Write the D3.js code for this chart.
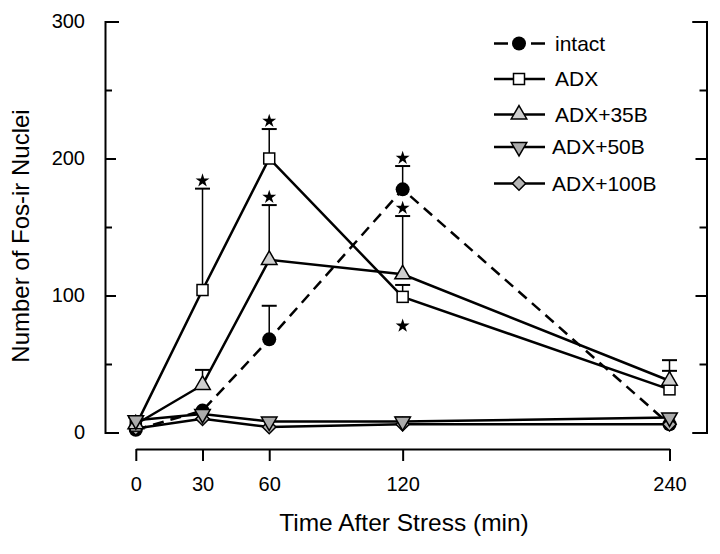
<!DOCTYPE html>
<html>
<head>
<meta charset="utf-8">
<script src="https://cdn.jsdelivr.net/npm/d3@7"></script>
<style>
  body { margin: 0; background: #fff; }
  text { font-family: "Liberation Sans", Arial, Helvetica, sans-serif; fill: #000; }
</style>
</head>
<body>
<svg id="chart" width="720" height="554"></svg>
<script>
// time points (min)
var times = [0, 30, 60, 120, 240];
var yTicks = [0, 50, 100, 150, 200, 250, 300];

// mean number of Fos-ir nuclei
var intact  = [2, 16, 68, 177.5, 6];
var adx     = [5, 104, 200, 99, 31.5];
var adx35   = [6, 34.7, 126, 115.5, 37.8];
var adx50   = [9, 13.5, 8, 8, 11];
var adx100  = [3, 10, 4, 6, 6];

// upward error bars (SEM), 0 = none drawn
var intactErr = [0, 0, 24.5, 17, 0];
var adxErr    = [6, 74, 21.5, 8.7, 13.5];
var adx35Err  = [0, 11, 40, 42.5, 15];
var adx50Err  = [0, 0, 0, 3, 0];
var adx100Err = [0, 0, 0, 0, 0];

// significance stars: [series, time index, side]
var stars = [
  ["adx", 1, "above"], ["adx", 2, "above"], ["adx", 3, "below"],
  ["adx35", 2, "above"], ["adx35", 3, "above"],
  ["intact", 3, "above"]
];

var series = [
  {key: "intact", label: "intact",   values: intact, err: intactErr, dashed: true},
  {key: "adx",    label: "ADX",      values: adx,    err: adxErr},
  {key: "adx35",  label: "ADX+35B",  values: adx35,  err: adx35Err},
  {key: "adx50",  label: "ADX+50B",  values: adx50,  err: adx50Err},
  {key: "adx100", label: "ADX+100B", values: adx100, err: adx100Err}
];

var svg = d3.select("#chart");

var x = d3.scaleLinear().domain([0, 240]).range([135.8, 669.5]);
var y = d3.scaleLinear().domain([0, 300]).range([432.5, 21.5]);

// marker drawing
function marker(g, key) {
  if (key == "intact") {
    g.append("circle").attr("r", 7).attr("fill", "#000");
  } else if (key == "adx") {
    g.append("rect").attr("x", -5.5).attr("y", -5.5).attr("width", 11).attr("height", 11)
      .attr("fill", "#fff").attr("stroke", "#000").attr("stroke-width", 1.5);
  } else if (key == "adx35") {
    g.append("path").attr("d", d3.symbol(d3.symbolTriangle, 105)())
      .attr("fill", "#cfcfcf").attr("stroke", "#000").attr("stroke-width", 1.5);
  } else if (key == "adx50") {
    g.append("path").attr("d", d3.symbol(d3.symbolTriangle, 105)())
      .attr("transform", "rotate(180)")
      .attr("fill", "#ababab").attr("stroke", "#000").attr("stroke-width", 1.5);
  } else {
    g.append("path").attr("d", d3.symbol(d3.symbolSquare, 90)())
      .attr("transform", "rotate(45)")
      .attr("fill", "#b5b5b5").attr("stroke", "#000").attr("stroke-width", 1.5);
  }
}

// axes
var yAxisL = d3.axisLeft(y).tickValues(yTicks).tickSize(-11).tickSizeOuter(-14).tickPadding(20)
  .tickFormat(function(d){ return d % 100 == 0 ? d : ""; });
var gL = svg.append("g").attr("transform", "translate(105,0)").call(yAxisL);

var yAxisR = d3.axisRight(y).tickValues(yTicks).tickSize(-11).tickSizeOuter(-14).tickFormat("");
var gR = svg.append("g").attr("transform", "translate(706.5,0)").call(yAxisR);

[gL, gR].forEach(function(g, i){
  g.select(".domain").attr("stroke-width", 2);
  g.selectAll(".tick line").attr("stroke-width", 2)
    .attr("x2", function(d){
      var s = i == 0 ? 1 : -1;
      if (d == 0 || d == 300) return 14 * s;
      return (d % 100 == 0 ? 11 : 7) * s;
    });
  g.selectAll("text").attr("font-size", 20);
});

var xAxis = d3.axisBottom(x).tickValues(times).tickSize(12).tickSizeOuter(0).tickPadding(16);
var gX = svg.append("g").attr("transform", "translate(0,449)").call(xAxis);
gX.select(".domain").attr("stroke-width", 2);
gX.selectAll(".tick line").attr("stroke-width", 2);
gX.selectAll("text").attr("font-size", 20);

svg.selectAll(".domain, .tick line").attr("stroke", "#000");

// axis titles
svg.append("text").attr("x", 404).attr("y", 531).attr("text-anchor", "middle")
  .attr("font-size", 24.5).text("Time After Stress (min)");
svg.append("text").attr("transform", "translate(29,236) rotate(-90)").attr("text-anchor", "middle")
  .attr("font-size", 24).text("Number of Fos-ir Nuclei");

// lines
var line = d3.line().x(function(d, i){ return x(times[i]); }).y(function(d){ return y(d); });
var plot = svg.append("g");
series.forEach(function(s){
  plot.append("path").datum(s.values).attr("d", line)
    .attr("fill", "none").attr("stroke", "#000").attr("stroke-width", 2.5)
    .attr("stroke-dasharray", s.dashed ? "11,7" : null);
});

// error bars
series.forEach(function(s){
  s.values.forEach(function(v, i){
    var e = s.err[i];
    if (!e) return;
    var cx = x(times[i]);
    plot.append("line").attr("x1", cx).attr("x2", cx).attr("y1", y(v)).attr("y2", y(v + e))
      .attr("stroke", "#000").attr("stroke-width", 1.5);
    plot.append("line").attr("x1", cx - 7.5).attr("x2", cx + 7.5).attr("y1", y(v + e)).attr("y2", y(v + e))
      .attr("stroke", "#000").attr("stroke-width", 2);
  });
});

// markers
var drawOrder = ["intact", "adx100", "adx", "adx35", "adx50"];
drawOrder.forEach(function(k){
  var s = series.find(function(d){ return d.key == k; });
  s.values.forEach(function(v, i){
    var g = plot.append("g").attr("transform", "translate(" + x(times[i]) + "," + y(v) + ")");
    marker(g, k);
  });
});

// significance stars
var starPath = d3.symbol(d3.symbolStar, 60)();
stars.forEach(function(st){
  var s = series.find(function(d){ return d.key == st[0]; });
  var i = st[1];
  var cy = st[2] == "above" ? y(s.values[i] + s.err[i]) - 8 : y(s.values[i]) + 29;
  plot.append("path").attr("d", starPath)
    .attr("transform", "translate(" + x(times[i]) + "," + cy + ")").attr("fill", "#000");
});

// legend
var legend = svg.append("g").selectAll("g").data(series).enter().append("g")
  .attr("transform", function(d, i){ return "translate(0," + [43.5, 79, 114.5, 147, 183.5][i] + ")"; });
legend.append("line").attr("x1", 494).attr("x2", 545)
  .attr("stroke", "#000").attr("stroke-width", 2.5)
  .attr("stroke-dasharray", function(d){ return d.dashed ? "14,23" : null; });
legend.each(function(d){
  var g = d3.select(this).append("g").attr("transform", "translate(519,0)");
  marker(g, d.key);
});
legend.append("text").attr("x", function(d, i){ return i < 3 ? 555 : 552; }).attr("dy", "0.35em")
  .attr("font-size", 21).text(function(d){ return d.label; });
</script>
</body>
</html>
